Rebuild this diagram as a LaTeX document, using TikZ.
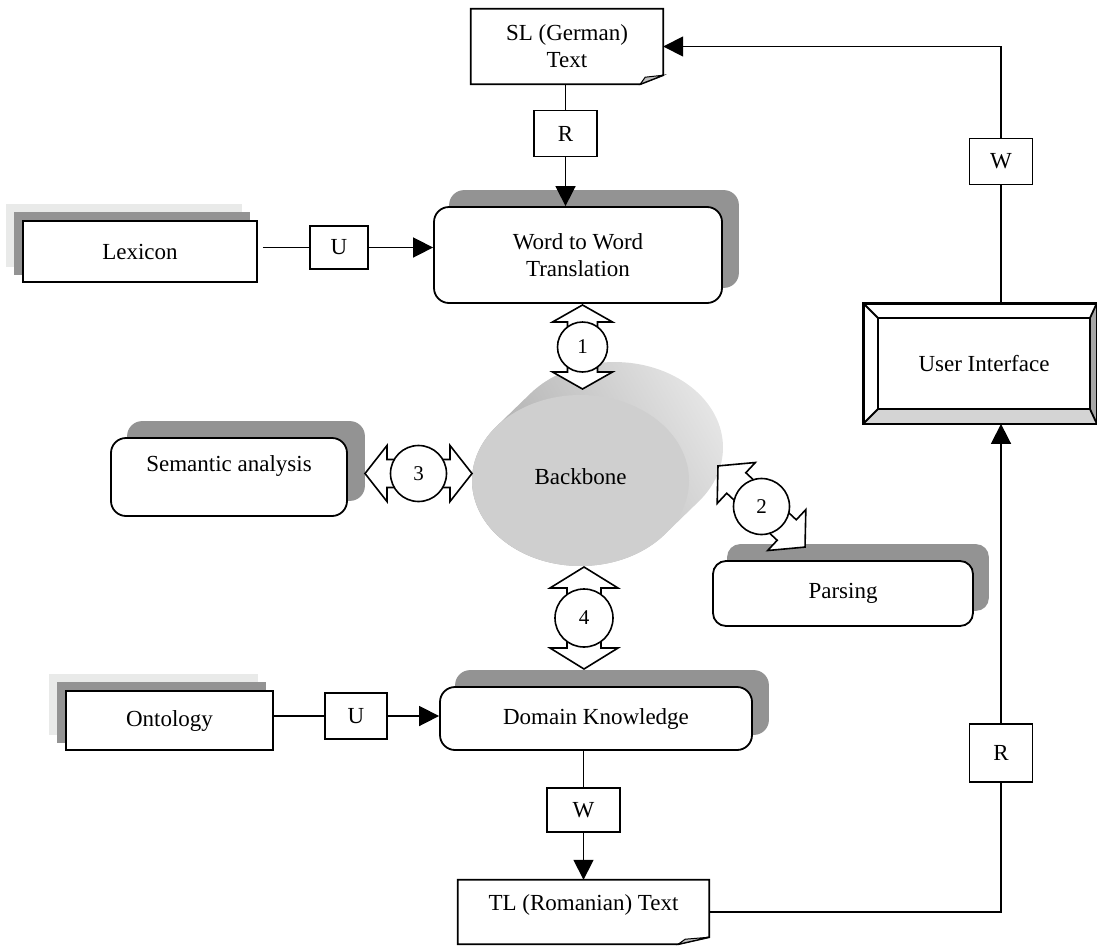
\documentclass[tikz,border=0pt]{standalone}
\usepackage{fontspec}
\setmainfont{Liberation Serif}
\usetikzlibrary{arrows.meta,calc,shapes.geometric,backgrounds}
\definecolor{shadowgray}{HTML}{939393}
\definecolor{lightshadow}{HTML}{E9EAE9}
\definecolor{frontgray}{HTML}{CFCFCF}
\definecolor{bevelbottom}{HTML}{D4D4D4}
\definecolor{bevelright}{HTML}{A6A6A6}
\newcommand\dblarrow[9]{%
  \begin{scope}[shift={#1},rotate=#2]
    \draw[blockarrow] (-#3,0) -- (-#3+#4,#5) -- (-#3+#4,#6) -- (#3-#4,#6) -- (#3-#4,#5) -- (#3,0)
      -- (#3-#4,-#5) -- (#3-#4,-#6) -- (-#3+#4,-#6) -- (-#3+#4,-#5) -- cycle;
  \end{scope}
  \node[numcirc, minimum size=#7] (#9) at #1 {#8};}
\begin{document}
\begin{tikzpicture}[x=1pt,y=-1pt,
  font=\fontsize{23}{27}\selectfont,
  box/.style={draw, line width=1.8pt, fill=white, inner sep=0pt, align=center},
  rbox/.style={box, rounded corners=15pt},
  plainbox/.style={fill=white, inner sep=0pt, align=center},
  lbl/.style={draw, line width=1.5pt, fill=white, inner sep=0pt, minimum width=63pt, minimum height=46pt},
  conn/.style={line width=1.6pt},
  arr/.style={conn, -{Triangle[length=20pt,width=20pt]}},
  blockarrow/.style={draw, line width=1.6pt, fill=white, line join=miter},
  numcirc/.style={circle, draw, line width=1.6pt, fill=white, inner sep=0pt, font=\fontsize{21}{24}\selectfont},
  outline/.style={line width=1.8pt},
  shadow/.style={fill=shadowgray, rounded corners=15pt}
]
\useasboundingbox (0,0) rectangle (1097,945);

% ---------- Backbone cylinder ----------
\coordinate (F) at (580.5,480.5);
\coordinate (B) at (614.5,447.5);
\shade[left color=black!36, right color=black!10, shading angle=120]
  ($(B)+(-84.2,-53.9)$) arc[start angle=219.1, end angle=399.1, x radius=108.5, y radius=85.5]
  -- ($(F)+(84.2,53.9)$) arc[start angle=39.1, end angle=219.1, x radius=108.5, y radius=85.5] -- cycle;
\node[ellipse, fill=frontgray, minimum width=217pt, minimum height=171pt, inner sep=0pt] (backbone) at (F) {};
\node at (580.5,477) {Backbone};

% ---------- Boxes ----------
\node[plainbox, minimum width=192pt, minimum height=75pt] (sl) at (567,46.5) {SL (German)\\Text};
\draw[outline] (sl.north west) -- (sl.north east) -- ($(sl.south east)+(0,-9)$) -- ($(sl.south east)+(-23,0)$) -- (sl.south west) -- cycle;
\filldraw[fill=lightgray, line width=1pt] ($(sl.south east)+(-23,0)$) -- ($(sl.south east)+(-18,-7)$) -- ($(sl.south east)+(0,-9)$) -- cycle;

\node[lbl] (r1) at (565.5,133.5) {R};

\node[rbox, minimum width=288pt, minimum height=96pt] (word) at (578,255) {Word to Word\\Translation};

\node[box, minimum width=234pt, minimum height=61pt] (lex) at (140,251.5) {Lexicon};
\node[lbl, minimum width=58pt, minimum height=43pt] (u1) at (339,247.5) {U};

\node[box, minimum width=232pt, minimum height=119pt] (ui) at (980,363.5) {};
\node at (984,363.5) {User Interface};
\coordinate (i1) at ($(ui.north west)+(15,15)$);
\coordinate (i2) at ($(ui.north east)+(-7,15)$);
\coordinate (i3) at ($(ui.south east)+(-7,-15)$);
\coordinate (i4) at ($(ui.south west)+(15,-15)$);
\fill[bevelbottom] (ui.south west) -- (ui.south east) -- (i3) -- (i4) -- cycle;
\fill[bevelright] (ui.north east) -- (ui.south east) -- (i3) -- (i2) -- cycle;
\draw[outline] (i1) rectangle (i3);
\draw[outline] (ui.north west) -- (i1) (ui.north east) -- (i2) (ui.south east) -- (i3) (ui.south west) -- (i4);
\draw[outline] (ui.north west) rectangle (ui.south east);

\node[lbl] (w2) at (1001,161.5) {W};

\node[rbox, minimum width=236pt, minimum height=78pt] (sem) at (229,477) {Semantic analysis\\\mbox{}};

\node[rbox, rounded corners=13pt, minimum width=260pt, minimum height=65pt] (pars) at (843,593.5) {Parsing};

\node[rbox, minimum width=312pt, minimum height=63pt] (dom) at (596,718.5) {Domain Knowledge};

\node[box, minimum width=207pt, minimum height=59pt] (ont) at (169.5,720.5) {Ontology};
\node[lbl, minimum width=62pt, minimum height=46pt] (u2) at (356,716) {U};

\node[lbl, minimum width=73pt, minimum height=44pt] (w3) at (583.5,810) {W};

\node[plainbox, minimum width=251pt, minimum height=64pt] (tl) at (583.5,912) {};
\node at (583.5,905) {TL (Romanian) Text};
\draw[outline] (tl.north west) -- (tl.north east) -- ($(tl.south east)+(0,-7)$) -- ($(tl.south east)+(-31,0)$) -- (tl.south west) -- cycle;
\filldraw[fill=lightgray, line width=1pt] ($(tl.south east)+(-31,0)$) -- ($(tl.south east)+(-24,-5)$) -- ($(tl.south east)+(0,-7)$) -- cycle;

\node[lbl, minimum height=58pt] (r2) at (1001,753) {R};

% ---------- Shadows ----------
\begin{scope}[on background layer]
  \fill[shadow] ($(word.north west)+(16,-16)$) rectangle ($(word.south east)+(16,-16)$);
  \fill[shadow] ($(sem.north west)+(17,-16)$) rectangle ($(sem.south east)+(17,-16)$);
  \fill[shadow, rounded corners=13pt] ($(pars.north west)+(15,-16)$) rectangle ($(pars.south east)+(15,-16)$);
  \fill[shadow] ($(dom.north west)+(16,-16)$) rectangle ($(dom.south east)+(16,-16)$);
  \fill[lightshadow] ($(lex.north west)+(-16,-16)$) rectangle ($(lex.south east)+(-16,-16)$);
  \fill[shadowgray] ($(lex.north west)+(-8,-8)$) rectangle ($(lex.south east)+(-8,-8)$);
  \fill[lightshadow] ($(ont.north west)+(-16,-16)$) rectangle ($(ont.south east)+(-16,-16)$);
  \fill[shadowgray] ($(ont.north west)+(-8,-8)$) rectangle ($(ont.south east)+(-8,-8)$);
\end{scope}

% ---------- Double block arrows ----------
\dblarrow{(582.5,347)}{90}{42}{17}{30}{15}{50pt}{1}{c1}
\dblarrow{(418.5,473.5)}{0}{53.5}{22}{28}{14}{56pt}{3}{c3}
\dblarrow{(584,618)}{90}{51}{21}{34}{17}{58pt}{4}{c4}
\dblarrow{(761.5,506.5)}{-43}{59.5}{25}{28}{14}{56pt}{2}{c2}

% ---------- Connectors ----------
\draw[conn] (sl.south -| r1.north) -- (r1.north);
\draw[arr] (r1.south) -- (r1.south |- word.north);
\draw[conn, shorten <=5pt] (lex.east |- u1.west) -- (u1.west);
\draw[arr] (u1.east) -- (u1.east -| word.west);
\draw[conn] (w2.south |- ui.north) -- (w2.south);
\draw[arr] (w2.north) |- (sl.east);
\draw[conn] (ont.east |- u2.west) -- (u2.west);
\draw[arr] (u2.east) -- (u2.east -| dom.west);
\draw[conn] (w3.north |- dom.south) -- (w3.north);
\draw[arr] (w3.south) -- (w3.south |- tl.north);
\draw[conn] (tl.east) -| (r2.south);
\draw[arr] (r2.north) -- (r2.north |- ui.south);
\end{tikzpicture}
\end{document}
